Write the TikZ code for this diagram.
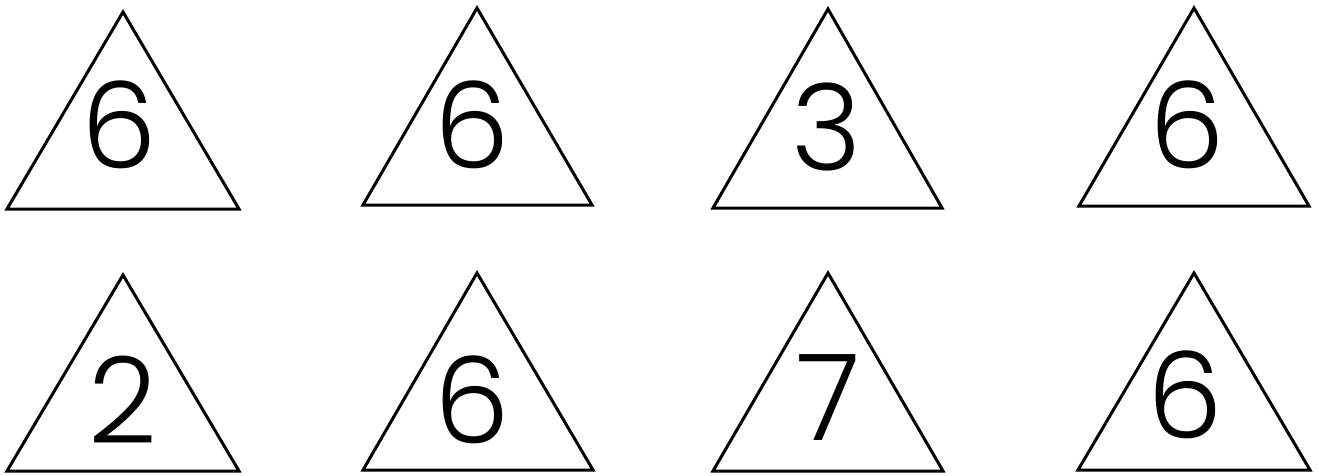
\documentclass[tikz,border=0pt]{standalone}
\usepackage{fontspec}
\setmainfont{Poppins}[UprightFont=* Light]
\usetikzlibrary{positioning}

\tikzset{
  tri/.style={draw=black, line width=3pt, fill=white},
  digit/.style={inner sep=0pt, anchor=base, text depth=0pt, font=\fontsize{120}{120}\selectfont}
}

\begin{document}
\begin{tikzpicture}[x=1pt, y=-1pt]
    % Fix the page to the reference size
    \useasboundingbox (0,0) rectangle (1319,475);

    % Triangles: apex, base corners, and the digit inside
    \foreach \i/\ax/\ay/\lx/\rx/\by/\dx/\dy/\d in {
        1/123/12/7/239/209/119/168/6,
        2/477/8/363/592/205/472/168/6,
        3/828/9/713/942/208/827/170/3,
        4/1194/8/1079/1309/206/1187/168/6,
        5/123/275/7/239/471/123/443/2,
        6/477/273/363/593/470/472/443/6,
        7/828/273/713/943/471/828/440/7,
        8/1194/273/1078/1310/470/1185/438/6}{
        \coordinate (A\i) at (\ax,\ay);
        \coordinate (L\i) at (\lx,\by);
        \coordinate (R\i) at (\rx,\by);
        \draw[tri] (A\i) -- (L\i) -- (R\i) -- cycle;
        \node[digit] (d\i) at (\dx,\dy) {\d};
    }
\end{tikzpicture}
\end{document}
